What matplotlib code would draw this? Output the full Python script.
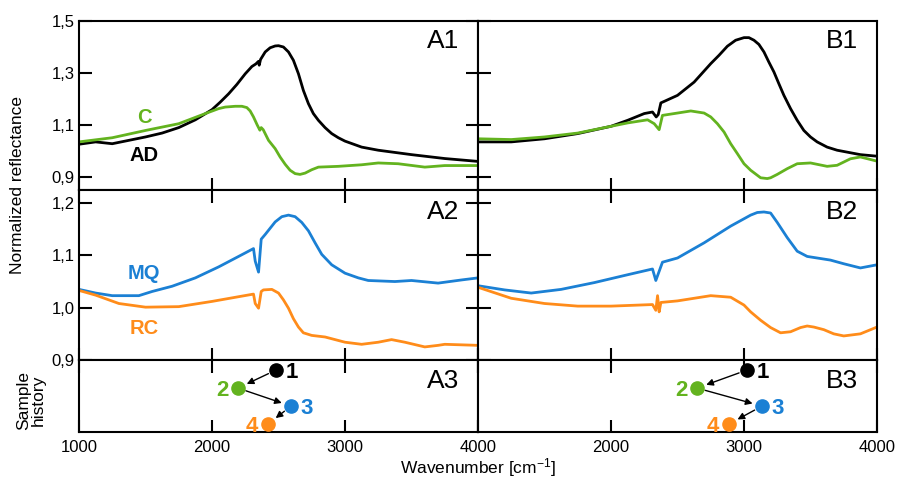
import matplotlib
matplotlib.use("Agg")
import matplotlib.pyplot as plt

plt.rcParams['font.family'] = ['Liberation Sans', 'DejaVu Sans']
plt.rcParams['mathtext.fontset'] = 'custom'
plt.rcParams['mathtext.rm'] = 'Liberation Sans'
plt.rcParams['mathtext.it'] = 'Liberation Sans'

# ---------------- data ----------------
# Panel A1
a1_ad_x = [1000, 1125, 1250, 1375, 1500, 1625, 1750, 1875, 2000, 2062, 2125, 2187, 2250, 2300, 2330, 2350, 2355,
           2365, 2400, 2437, 2475, 2500, 2537, 2575, 2612, 2650, 2687, 2725, 2762, 2800, 2850, 2900, 2950, 3000,
           3125, 3250, 3500, 3750, 4000]
a1_ad_y = [1.026, 1.035, 1.028, 1.041, 1.054, 1.069, 1.090, 1.120, 1.159, 1.188, 1.220, 1.256, 1.297, 1.325, 1.335,
           1.345, 1.330, 1.352, 1.381, 1.397, 1.404, 1.405, 1.400, 1.381, 1.349, 1.297, 1.233, 1.182, 1.144, 1.118,
           1.090, 1.067, 1.051, 1.038, 1.015, 1.003, 0.986, 0.971, 0.960]
a1_c_x = [1000, 1250, 1500, 1750, 1950, 2050, 2100, 2175, 2225, 2262, 2287, 2312, 2340, 2360, 2370, 2385, 2425,
          2475, 2512, 2550, 2587, 2625, 2662, 2700, 2750, 2800, 2950, 3125, 3250, 3400, 3600, 3750, 4000]
a1_c_y = [1.035, 1.051, 1.079, 1.105, 1.144, 1.163, 1.169, 1.172, 1.172, 1.167, 1.154, 1.131, 1.100, 1.080, 1.090,
          1.082, 1.041, 1.009, 0.977, 0.949, 0.926, 0.913, 0.910, 0.915, 0.928, 0.938, 0.941, 0.947, 0.954, 0.951,
          0.938, 0.944, 0.944]

# Panel B1
b1_ad_x = [1000, 1250, 1500, 1750, 2000, 2125, 2250, 2312, 2340, 2355, 2375, 2500, 2625, 2750, 2812, 2875, 2937,
           3000, 3037, 3075, 3112, 3150, 3187, 3225, 3262, 3300, 3350, 3400, 3450, 3500, 3550, 3625, 3700, 3875,
           4000]
b1_ad_y = [1.035, 1.035, 1.047, 1.067, 1.095, 1.118, 1.144, 1.150, 1.131, 1.140, 1.185, 1.214, 1.265, 1.336, 1.368,
           1.403, 1.426, 1.436, 1.436, 1.426, 1.410, 1.381, 1.342, 1.304, 1.259, 1.214, 1.163, 1.118, 1.079, 1.054,
           1.035, 1.015, 1.003, 0.986, 0.980]
b1_c_x = [1000, 1250, 1500, 1750, 2000, 2125, 2275, 2325, 2362, 2387, 2500, 2600, 2700, 2750, 2800, 2850, 2900,
          2950, 3000, 3050, 3125, 3175, 3200, 3250, 3325, 3400, 3500, 3625, 3700, 3800, 3875, 4000]
b1_c_y = [1.047, 1.044, 1.054, 1.069, 1.095, 1.108, 1.120, 1.105, 1.082, 1.137, 1.146, 1.154, 1.146, 1.131, 1.105,
          1.073, 1.028, 0.990, 0.951, 0.926, 0.897, 0.894, 0.897, 0.910, 0.932, 0.951, 0.954, 0.941, 0.945, 0.970,
          0.977, 0.961]

# Panel A2
a2_mq_x = [1000, 1125, 1250, 1450, 1550, 1700, 1875, 2050, 2200, 2312, 2325, 2350, 2370, 2400, 2450, 2475, 2525,
           2575, 2625, 2675, 2725, 2775, 2825, 2900, 3000, 3100, 3175, 3375, 3500, 3700, 3875, 4000]
a2_mq_y = [1.035, 1.028, 1.023, 1.023, 1.031, 1.041, 1.057, 1.078, 1.098, 1.113, 1.089, 1.068, 1.131, 1.140, 1.156,
           1.164, 1.174, 1.177, 1.174, 1.163, 1.147, 1.124, 1.102, 1.082, 1.066, 1.057, 1.052, 1.050, 1.052, 1.047,
           1.053, 1.057]
a2_rc_x = [1000, 1125, 1300, 1500, 1750, 2000, 2200, 2312, 2325, 2350, 2370, 2387, 2450, 2500, 2537, 2575, 2612,
           2650, 2687, 2750, 2850, 3000, 3125, 3250, 3350, 3450, 3600, 3700, 3750, 4000]
a2_rc_y = [1.033, 1.024, 1.008, 1.001, 1.002, 1.012, 1.021, 1.026, 1.008, 0.999, 1.031, 1.034, 1.035, 1.028, 1.015,
           0.999, 0.979, 0.963, 0.952, 0.947, 0.944, 0.934, 0.930, 0.934, 0.939, 0.934, 0.925, 0.928, 0.930, 0.928]

# Panel B2
b2_mq_x = [1000, 1200, 1400, 1625, 1875, 2125, 2312, 2337, 2387, 2500, 2700, 2900, 3050, 3100, 3150, 3200, 3250,
           3325, 3400, 3475, 3550, 3650, 3750, 3875, 4000]
b2_mq_y = [1.042, 1.034, 1.028, 1.035, 1.048, 1.063, 1.074, 1.052, 1.087, 1.095, 1.124, 1.156, 1.177, 1.182, 1.183,
           1.181, 1.163, 1.134, 1.108, 1.098, 1.095, 1.091, 1.084, 1.076, 1.082]
b2_rc_x = [1000, 1250, 1500, 1750, 2000, 2312, 2337, 2350, 2362, 2375, 2500, 2750, 2900, 3000, 3050, 3125, 3200,
           3275, 3350, 3425, 3475, 3525, 3600, 3675, 3750, 3875, 4000]
b2_rc_y = [1.039, 1.018, 1.008, 1.003, 1.003, 1.006, 0.995, 1.023, 0.992, 1.010, 1.013, 1.023, 1.020, 1.005, 0.992,
           0.976, 0.962, 0.952, 0.954, 0.962, 0.965, 0.963, 0.958, 0.950, 0.946, 0.950, 0.963]

# Sample history (peak positions), order 1..4
hist_levels = [0.86, 0.61, 0.36, 0.11]
hist_labels = ['1', '2', '3', '4']
a3_peaks = [2481, 2195, 2594, 2421]
b3_peaks = [3022, 2647, 3135, 2887]

series_colors = ['#000000', '#63b31f', '#1b80d4', '#ff8c1a']

y1_ticks = [0.9, 1.1, 1.3, 1.5]
y1_labels = ['0,9', '1,1', '1,3', '1,5']
y2_ticks = [0.9, 1.0, 1.1, 1.2]
y2_labels = ['0,9', '1,0', '1,1', '1,2']
x_ticks = [1000, 2000, 3000, 4000]
xa_labels = ['1000', '2000', '3000', '4000']
xb_labels = ['', '2000', '3000', '4000']

# ---------------- figure ----------------
W, H = 897, 488
fig = plt.figure(figsize=(W / 100, H / 100), dpi=100)

def fx(px):
    return px / W

def fy(py):
    return 1 - py / H

left_a, mid, right_b = 79, 478, 877
top, b12, b23, bottom = 21, 190, 360, 432

axes = {}
for col, (x0, x1) in enumerate([(left_a, mid), (mid, right_b)]):
    for row, (y0, y1) in enumerate([(top, b12), (b12, b23), (b23, bottom)]):
        ax = fig.add_axes([fx(x0), fy(y1), fx(x1 - x0), (y1 - y0) / H])
        axes[(col, row)] = ax

lw = 2.0
lkw = dict(lw=lw, solid_joinstyle='round', solid_capstyle='round')
for col in range(2):
    ax1, ax2, ax3 = axes[(col, 0)], axes[(col, 1)], axes[(col, 2)]
    if col == 0:
        ax1.plot(a1_ad_x, a1_ad_y, color=series_colors[0], **lkw)
        ax1.plot(a1_c_x, a1_c_y, color=series_colors[1], **lkw)
        ax2.plot(a2_mq_x, a2_mq_y, color=series_colors[2], **lkw)
        ax2.plot(a2_rc_x, a2_rc_y, color=series_colors[3], **lkw)
        peaks = a3_peaks
    else:
        ax1.plot(b1_ad_x, b1_ad_y, color=series_colors[0], **lkw)
        ax1.plot(b1_c_x, b1_c_y, color=series_colors[1], **lkw)
        ax2.plot(b2_mq_x, b2_mq_y, color=series_colors[2], **lkw)
        ax2.plot(b2_rc_x, b2_rc_y, color=series_colors[3], **lkw)
        peaks = b3_peaks

    ax1.set_ylim(0.85, 1.5)
    ax2.set_ylim(0.9, 1.225)
    ax3.set_ylim(0, 1)
    for ax in (ax1, ax2, ax3):
        ax.set_xlim(1000, 4000)
        ax.set_xticks(x_ticks)
        for s in ax.spines.values():
            s.set_linewidth(1.5)
        ax.tick_params(direction='in', length=9, width=1.5, labelsize=12, color='black')
    ax1.set_yticks(y1_ticks)
    ax2.set_yticks(y2_ticks)
    ax3.set_yticks([])
    if col == 0:
        ax1.set_yticklabels(y1_labels)
        ax2.set_yticklabels(y2_labels)
        for ax in (ax1, ax2):
            ax.tick_params(axis='y', left=True, right=True, labelleft=True, pad=3)
    else:
        for ax in (ax1, ax2):
            ax.tick_params(axis='y', left=True, right=False, labelleft=False)
    ax1.tick_params(axis='x', top=False, bottom=True, labelbottom=False)
    ax2.tick_params(axis='x', top=True, bottom=True, labelbottom=False)
    ax3.tick_params(axis='x', top=True, bottom=True, labelbottom=True, pad=6)
    ax3.set_xticklabels(xa_labels if col == 0 else xb_labels)

    # panel names
    tag = 'AB'[col]
    ax1.text(0.952, 0.88, tag + '1', transform=ax1.transAxes, ha='right', va='center', fontsize=19)
    ax2.text(0.952, 0.87, tag + '2', transform=ax2.transAxes, ha='right', va='center', fontsize=19)
    ax3.text(0.952, 0.71, tag + '3', transform=ax3.transAxes, ha='right', va='center', fontsize=19)

    # sample history
    for i in range(4):
        ax3.plot(peaks[i], hist_levels[i], 'o', color=series_colors[i], ms=9.5, zorder=3)
    for i in range(3):
        ax3.annotate('', xy=(peaks[i + 1], hist_levels[i + 1]), xytext=(peaks[i], hist_levels[i]),
                     arrowprops=dict(arrowstyle='-|>', color='black', lw=1.0, shrinkA=6, shrinkB=7,
                                     mutation_scale=10), zorder=2)
    offsets = [(7, -2, 'left'), (-7, -2, 'right'), (7, -2, 'left'), (-7, -2, 'right')]
    for i in range(4):
        dx, dy, ha = offsets[i]
        ax3.annotate(hist_labels[i], xy=(peaks[i], hist_levels[i]), xytext=(dx, dy),
                     textcoords='offset points', ha=ha, va='center', fontsize=16,
                     fontweight='bold', color=series_colors[i])

# curve labels
axA1, axA2 = axes[(0, 0)], axes[(0, 1)]
axA1.text(1489, 1.128, 'C', color=series_colors[1], fontsize=14.5, fontweight='bold', ha='center', va='center')
axA1.text(1489, 0.983, 'AD', color=series_colors[0], fontsize=14.5, fontweight='bold', ha='center', va='center')
axA2.text(1489, 1.066, 'MQ', color=series_colors[2], fontsize=14.5, fontweight='bold', ha='center', va='center')
axA2.text(1489, 0.960, 'RC', color=series_colors[3], fontsize=14.5, fontweight='bold', ha='center', va='center')

fig.text(fx(18), fy(185), 'Normalized reflectance', rotation=90, ha='center', va='center', fontsize=12.5)
fig.text(fx(31), fy(400), 'Sample\nhistory', rotation=90, ha='center', va='center', fontsize=12.5,
         linespacing=1.0, multialignment='center')
fig.text(fx(478), fy(468), r'Wavenumber [cm$^{\mathregular{-1}}$]', ha='center', va='center', fontsize=12.5)

fig.savefig('out.png', dpi=100)
